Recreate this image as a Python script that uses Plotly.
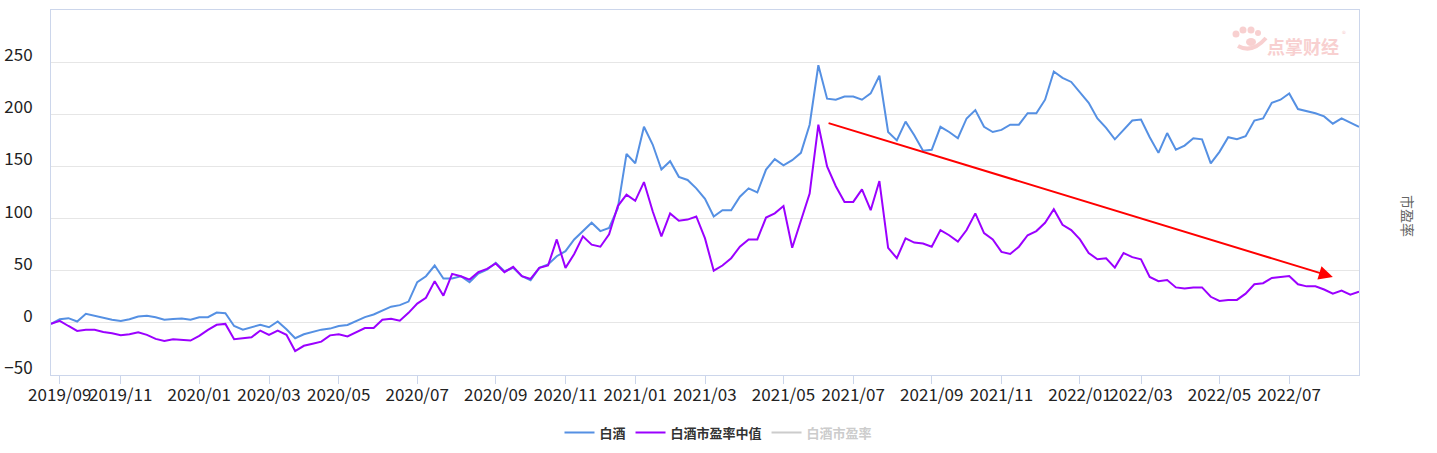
import pandas as pd
import plotly.graph_objects as go

# weekly (Friday) sampling dates; weeks with (almost) no trading removed
all_weeks = pd.date_range("2019-08-30", "2022-08-26", freq="W-FRI")
closed_weeks = ["2019-10-04", "2020-01-31", "2020-10-09", "2021-02-19", "2021-10-08", "2022-02-04"]
dates = [d.strftime("%Y-%m-%d") for d in all_weeks if d.strftime("%Y-%m-%d") not in closed_weeks]

baijiu = [
    -1, 3.5, 4.5, 1.3, 8.7, 6.7, 5.4, 2.9, 1.9, 3.5,
    6.1, 6.7, 5.4, 2.9, 3.8, 4.2, 2.9, 5.4, 5.4, 9.9,
    9.3, -3, -6.5, -4.2, -1.9, -4.2, 1.3, -6.1, -14.7, -10.9,
    -9, -6.5, -5.5, -3, -2, 1.5, 5.5, 8, 12, 15.5,
    17, 20.4, 39, 44.7, 55, 42.5, 42.5, 44.7, 39, 47.3,
    51, 57.5, 49.5, 52.7, 44.7, 40.9, 52.7, 56, 63.9, 68.7,
    80, 88, 96, 88, 91, 110, 162, 153, 188, 171,
    147, 155, 140, 137, 129, 119, 102, 108, 108, 121,
    129, 125, 147, 157, 151, 156, 163, 190, 247, 215,
    214, 217, 217, 214, 220, 237, 183, 175, 193, 180,
    165, 166, 188, 183, 177, 196, 204, 188, 183, 185,
    190, 190, 201, 201, 214, 241, 235, 231, 221, 211,
    196, 187, 176, 185, 194, 195, 178, 163, 182, 166,
    170, 177, 176, 153, 164, 178, 176, 179, 194, 196,
    211, 214, 220, 205, 203, 201, 198, 191, 196, 192,
    188,
]

median_pe = [
    -1, 2, -3, -7.7, -6.7, -6.7, -8.7, -9.9, -11.9, -10.9,
    -9, -11.5, -15.4, -17.3, -15.7, -16.3, -17, -12.5, -6.7, -1.9,
    -1, -15.7, -14.7, -13.8, -7.4, -11.5, -7.4, -11.5, -27, -22,
    -20, -18, -12, -11, -13, -9, -5, -5, 3, 4,
    2, 9.6, 18.5, 24, 40, 26, 47, 44.7, 41.5, 48.6,
    51.8, 56.9, 48.6, 53.7, 44.7, 42.2, 52.7, 55, 80, 52.7,
    66, 83, 75, 73, 85, 112, 123, 117, 135, 107,
    83, 105, 98, 99, 102, 81, 50, 55, 62, 73,
    80, 80, 101, 105, 112, 72, 99, 124, 190, 150,
    131, 116, 116, 128, 108, 136, 72, 62, 81, 77,
    76, 73, 89, 84, 78, 89, 105, 86, 80, 68,
    66, 73, 84, 88, 96, 109, 94, 89, 80, 67,
    61, 62, 53, 67, 63, 61, 44, 40, 41, 34,
    33, 34, 34, 25, 21, 22, 22, 28, 37, 38,
    43, 44, 45, 37, 35, 35, 32, 28, 31, 27,
    30,
]

y_ticks = [-50, 0, 50, 100, 150, 200, 250]

# trend arrow (from, to)
arrow_dates = ["2021-06-11", "2022-08-05"]
arrow_vals = [192, 44]

# x ticks: first sample of every odd month
tick_vals, tick_text = [], []
prev = None
for d in dates:
    ym = d[:7]
    if ym != prev:
        if int(d[5:7]) % 2 == 1:
            tick_vals.append(d)
            tick_text.append(d[:4] + "/" + d[5:7])
        prev = ym

FONT = "Noto Sans CJK SC, Noto Sans, sans-serif"
PINK = "#f8d0d0"

fig = go.Figure()
fig.add_trace(go.Scatter(x=dates, y=baijiu, name="白酒", mode="lines",
                         line=dict(color="#5590e3", width=2)))
fig.add_trace(go.Scatter(x=dates, y=median_pe, name="白酒市盈率中值", mode="lines",
                         line=dict(color="#9b00ff", width=2)))
fig.add_trace(go.Scatter(x=[None], y=[None], name="<span style='color:#cccccc'>白酒市盈率</span>",
                         mode="lines", line=dict(color="#cccccc", width=2)))

ax0 = dates.index(arrow_dates[0])
ax1 = dates.index(arrow_dates[1])
fig.add_annotation(x=ax1, y=arrow_vals[1], ax=ax0, ay=arrow_vals[0],
                   xref="x", yref="y", axref="x", ayref="y",
                   showarrow=True, arrowhead=2, arrowsize=1.4, arrowwidth=2,
                   arrowcolor="#ff0000", text="")

# watermark (logo + text)
def px_x(p):
    return (p - 51) / 1308.0

def px_y(p):
    return (375 - p) / 365.0

for cx, cy, r in [(1236, 34, 3.5), (1243, 30, 3.5), (1251, 30, 3.5), (1258, 33, 3)]:
    fig.add_shape(type="circle", xref="paper", yref="paper",
                  x0=px_x(cx - r), x1=px_x(cx + r), y0=px_y(cy + r), y1=px_y(cy - r),
                  fillcolor=PINK, line=dict(width=0), layer="below")
fig.add_shape(type="path", xref="paper", yref="paper",
              path="M {} {} Q {} {} {} {}".format(px_x(1238), px_y(46), px_x(1252), px_y(54), px_x(1266), px_y(38)),
              line=dict(color=PINK, width=4), layer="below")
fig.add_shape(type="circle", xref="paper", yref="paper",
              x0=px_x(1246), x1=px_x(1256), y0=px_y(46), y1=px_y(38),
              fillcolor=PINK, line=dict(width=0), layer="below")
fig.add_annotation(x=px_x(1303), y=px_y(46), xref="paper", yref="paper", showarrow=False,
                   xanchor="center", yanchor="middle",
                   text="<b>点掌财经</b>", font=dict(family=FONT, size=18, color=PINK))
fig.add_annotation(x=px_x(1344), y=px_y(34), xref="paper", yref="paper", showarrow=False,
                   xanchor="center", yanchor="middle",
                   text="®", font=dict(family=FONT, size=8, color=PINK))

# right axis title
fig.add_annotation(x=px_x(1408), y=px_y(216), xref="paper", yref="paper", showarrow=False,
                   xanchor="center", yanchor="middle",
                   text="市盈率", textangle=90, font=dict(family=FONT, size=14, color="#666666"))

fig.update_layout(
    width=1437, height=453,
    margin=dict(l=51, r=78, t=10, b=78),
    paper_bgcolor="white", plot_bgcolor="white",
    font=dict(family=FONT, size=15, color="#222222"),
    showlegend=True,
    legend=dict(orientation="h", xref="container", x=0.5, xanchor="center",
                yref="container", y=0.045, yanchor="middle",
                font=dict(family=FONT, size=13, color="#333333", weight="bold"),
                itemwidth=30, tracegroupgap=0),
    xaxis=dict(type="category", range=[0, len(dates) - 1], automargin=False,
               tickmode="array", tickvals=tick_vals, ticktext=tick_text, tickangle=0,
               showgrid=False, showline=True, linecolor="#ccd6eb", mirror=True,
               ticks="outside", ticklen=8, tickcolor="#ccd6eb", ticklabelstandoff=-3,
               tickfont=dict(family=FONT, size=17, color="#222222"), zeroline=False),
    yaxis=dict(range=[-50, 300], tickmode="array", tickvals=y_ticks, automargin=False,
               showgrid=True, gridcolor="#e6e6e6", gridwidth=1,
               showline=True, linecolor="#ccd6eb", mirror=True,
               zeroline=False, ticks="", ticklabelstandoff=14, ticklabelshift=-7,
               tickfont=dict(family=FONT, size=17, color="#222222")),
)

fig.write_html("out.html")
